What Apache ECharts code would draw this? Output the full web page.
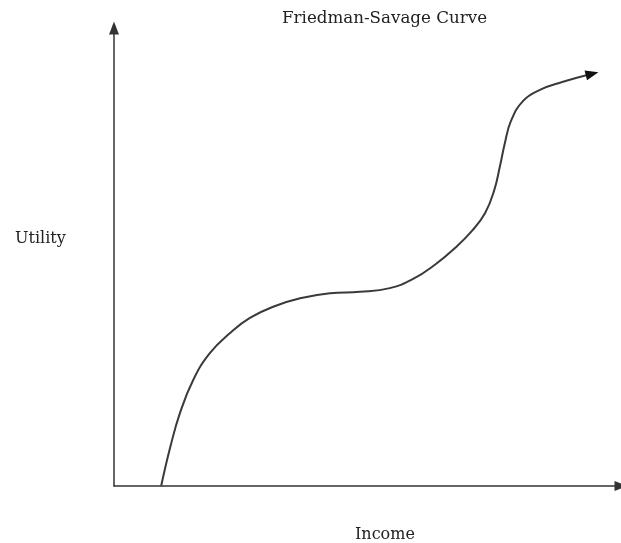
<!DOCTYPE html>
<html>
<head>
<meta charset="utf-8">
<script src="https://cdn.jsdelivr.net/npm/echarts@6/dist/echarts.min.js"></script>
<style>
  html, body { margin: 0; padding: 0; background: #fff; }
  #chart { width: 621px; height: 543px; }
</style>
</head>
<body>
<div id="chart"></div>
<script>
// income (x) and utility (y), 0-100 scale
const income = [9.3, 11.1, 13.0, 15.6, 18.9, 22.9, 26.8, 31.8, 36.7, 42.6, 48.5, 54.4, 59.0, 63.3, 67.3, 70.6, 73.2, 75.0, 76.1, 77.1, 78.3, 80.7, 84.0, 88.4, 94.3]
const utility = [0, 8.5, 15.9, 23.1, 29.0, 33.4, 36.7, 39.3, 41.0, 42.1, 42.4, 43.2, 45.2, 48.3, 52.0, 55.7, 59.6, 64.6, 69.7, 74.9, 79.7, 84.1, 86.5, 88.2, 90.0]

const chartTitle = 'Friedman-Savage Curve'
const xName = 'Income'
const yName = 'Utility'

const font = 'DejaVu Serif'
const ink = '#222'

const points = income.map((x, i) => {
  const p = { value: [x, utility[i]] }
  // arrow head on the last point
  if (i === income.length - 1) {
    p.symbol = 'triangle'
    p.symbolSize = [10, 13]
    p.symbolRotate = -76
  }
  return p
})

const chart = echarts.init(document.getElementById('chart'))
chart.setOption({
  animation: false,
  title: [
    {
      text: chartTitle,
      left: 282,
      top: 10,
      padding: 0,
      textStyle: { fontFamily: font, fontSize: 16.7, fontWeight: 'normal', color: ink },
    },
    {
      text: yName,
      left: 15,
      top: 231,
      padding: 0,
      textStyle: { fontFamily: font, fontSize: 16, fontWeight: 'normal', color: ink },
    },
    {
      text: xName,
      left: 355,
      top: 527,
      padding: 0,
      textStyle: { fontFamily: font, fontSize: 16, fontWeight: 'normal', color: ink },
    },
  ],
  grid: { left: 114, right: 0, top: 28, bottom: 57 },
  xAxis: {
    type: 'value',
    min: 0,
    max: 100,
    axisLine: { lineStyle: { color: '#333', width: 1.5 }, symbol: ['none', 'triangle'], symbolSize: [10, 13] },
    axisTick: { show: false },
    axisLabel: { show: false },
    splitLine: { show: false },
  },
  yAxis: {
    type: 'value',
    min: 0,
    max: 100,
    axisLine: { show: true, lineStyle: { color: '#333', width: 1.5 }, symbol: ['none', 'triangle'], symbolSize: [10, 13] },
    axisTick: { show: false },
    axisLabel: { show: false },
    splitLine: { show: false },
  },
  series: [
    {
      type: 'line',
      data: points,
      smooth: 0.45,
      symbol: 'none',
      showSymbol: true,
      lineStyle: { color: '#3a3a3a', width: 2 },
      itemStyle: { color: '#111' },
    },
  ],
})
</script>
</body>
</html>
